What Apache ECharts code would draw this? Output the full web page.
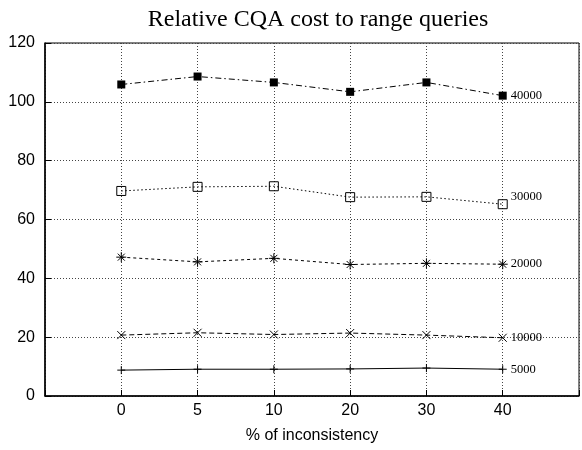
<!DOCTYPE html>
<html>
<head>
<meta charset="utf-8">
<script src="https://cdn.jsdelivr.net/npm/echarts@6/dist/echarts.min.js"></script>
<style>html,body{margin:0;padding:0;background:#fff;}#c{width:582px;height:450px;}</style>
</head>
<body>
<div id="c"></div>
<script>
var xLabels = ['0', '5', '10', '20', '30', '40'];
var yTicks = [0, 20, 40, 60, 80, 100, 120];
var seriesNames = ['40000', '30000', '20000', '10000', '5000'];
var s40000 = [105.9, 108.6, 106.6, 103.4, 106.6, 102.1];
var s30000 = [69.7, 71.1, 71.3, 67.6, 67.7, 65.2];
var s20000 = [47.2, 45.6, 46.8, 44.7, 45.1, 44.8];
var s10000 = [20.7, 21.5, 20.9, 21.4, 20.7, 19.8];
var s5000 = [8.8, 9.1, 9.1, 9.2, 9.5, 9.1];

function pts(arr) { return arr.map(function (v, i) { return [i, v]; }); }

var starPath = 'path://M5,0 L5,10 M0,5 L10,5 M1.5,1.5 L8.5,8.5 M8.5,1.5 L1.5,8.5';
var crossPath = 'path://M0,0 L10,10 M10,0 L0,10';
var plusPath = 'path://M5,0 L5,10 M0,5 L10,5';

function mk(name, data, symbol, size, dash, itemStyle, labelOffset) {
  return {
    name: name, type: 'line', data: pts(data),
    symbol: symbol, symbolSize: size, showAllSymbol: true,
    lineStyle: { color: '#000', width: 1, type: dash },
    itemStyle: itemStyle,
    emphasis: { disabled: true },
    z: 5,
    endLabel: {
      show: true, formatter: name, distance: 8, offset: labelOffset || [0, 0],
      color: '#000', fontFamily: '"Liberation Serif", "Times New Roman", serif', fontSize: 12.5
    }
  };
}

var chart = echarts.init(document.getElementById('c'), null, { renderer: 'canvas' });
chart.setOption({
  animation: false,
  title: {
    text: 'Relative CQA cost to range queries',
    left: 313, top: 3, textAlign: 'center',
    textStyle: { fontFamily: '"Liberation Serif", "Times New Roman", serif', fontWeight: 'normal', fontSize: 24, color: '#000' }
  },
  grid: { left: 45, top: 43, width: 541, height: 353, show: true, borderColor: '#000', borderWidth: 1, backgroundColor: 'transparent' },
  xAxis: {
    type: 'value', min: -1, max: 6, interval: 1,
    name: '% of inconsistency', nameLocation: 'middle', nameGap: 32,
    nameTextStyle: { fontFamily: '"Liberation Sans", Arial, sans-serif', fontSize: 16, color: '#000' },
    axisLine: { show: true, onZero: false, lineStyle: { color: '#000', width: 1.5 } },
    axisTick: { show: true, inside: true, length: 6, lineStyle: { color: '#000' } },
    axisLabel: {
      margin: 7, fontFamily: '"Liberation Sans", Arial, sans-serif', fontSize: 16, color: '#000',
      showMinLabel: true, showMaxLabel: true,
      formatter: function (v) { return (v >= 0 && v < xLabels.length) ? xLabels[v] : ''; }
    },
    splitLine: { show: true, lineStyle: { color: '#444', width: 1, type: [1, 2] } }
  },
  yAxis: {
    type: 'value', min: yTicks[0], max: yTicks[yTicks.length - 1], interval: 20,
    axisLine: { show: true, onZero: false, lineStyle: { color: '#000', width: 1.5 } },
    axisTick: { show: true, inside: true, length: 6, lineStyle: { color: '#000' } },
    axisLabel: { margin: 10, fontFamily: '"Liberation Sans", Arial, sans-serif', fontSize: 16, color: '#000' },
    splitLine: { show: true, lineStyle: { color: '#444', width: 1, type: [1, 2] } }
  },
  series: [
    mk(seriesNames[0], s40000, 'rect', 8, [6, 3, 1.5, 3], { color: '#000', borderColor: '#000', borderWidth: 0 }),
    mk(seriesNames[1], s30000, 'rect', 9, [1.5, 2.5], { color: 'rgba(0,0,0,0)', borderColor: '#000', borderWidth: 1 }, [0, -7]),
    mk(seriesNames[2], s20000, starPath, 10, [3, 3], { color: 'rgba(0,0,0,0)', borderColor: '#000', borderWidth: 1 }),
    mk(seriesNames[3], s10000, crossPath, 8, [5, 3], { color: 'rgba(0,0,0,0)', borderColor: '#000', borderWidth: 1 }),
    mk(seriesNames[4], s5000, plusPath, 8, 'solid', { color: 'rgba(0,0,0,0)', borderColor: '#000', borderWidth: 1 })
  ]
});
</script>
</body>
</html>
